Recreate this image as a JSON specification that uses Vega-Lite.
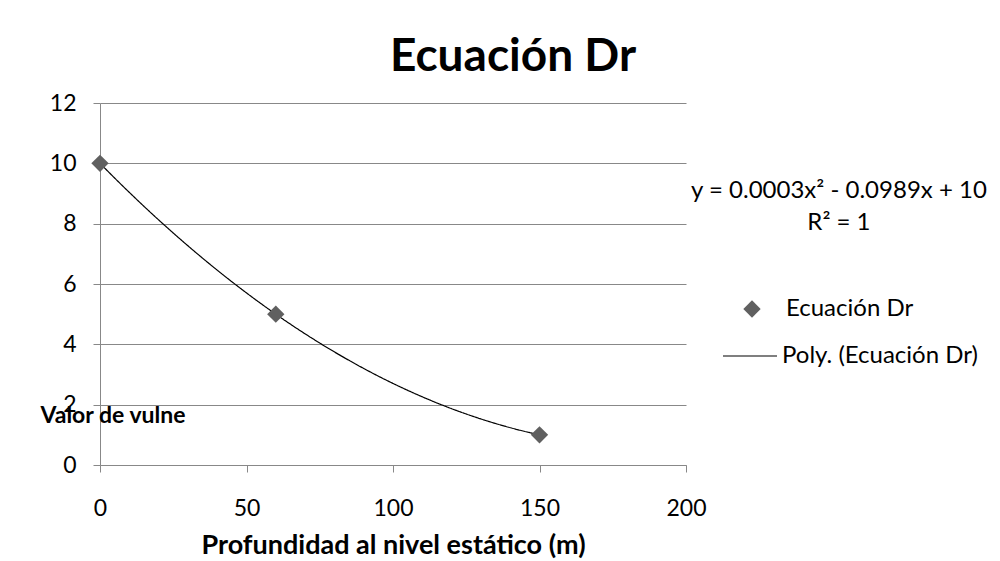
{
  "$schema": "https://vega.github.io/schema/vega-lite/v6.json",
  "autosize": {"type": "none"},
  "width": 586,
  "height": 362,
  "padding": {"left": 100, "top": 103, "right": 314, "bottom": 96},
  "background": "white",
  "title": {
    "text": "Ecuación Dr",
    "font": "Lato",
    "fontSize": 46,
    "fontWeight": "bold",
    "color": "black",
    "anchor": "middle",
    "frame": "group",
    "baseline": "alphabetic",
    "offset": 0,
    "dx": 120,
    "dy": 25
  },
  "config": {
    "view": {"stroke": null},
    "font": "Lato",
    "axis": {
      "domainColor": "#888888",
      "tickColor": "#888888",
      "gridColor": "#888888",
      "labelFont": "Lato",
      "labelFontSize": 23,
      "labelColor": "black",
      "labelFlush": false,
      "labelOverlap": false,
      "titleFont": "Lato",
      "titleColor": "black",
      "titleFontWeight": "bold",
      "tickSize": 7
    }
  },
  "data": {
    "values": [
      {"x": 0, "y": 10},
      {"x": 60, "y": 5},
      {"x": 150, "y": 1}
    ]
  },
  "layer": [
    {
      "transform": [
        {"regression": "y", "on": "x", "method": "poly", "order": 2, "extent": [0, 150]}
      ],
      "mark": {"type": "line", "color": "black", "strokeWidth": 1.2, "interpolate": "monotone"},
      "encoding": {
        "x": {
          "field": "x", "type": "quantitative",
          "scale": {"domain": [0, 200], "nice": false},
          "axis": {
            "values": [0, 50, 100, 150, 200],
            "grid": false,
            "labelBaseline": "middle",
            "labelPadding": 36,
            "title": "Profundidad al nivel estático (m)",
            "titleFontSize": 27,
            "titleY": 80,
            "titleBaseline": "middle"
          }
        },
        "y": {
          "field": "y", "type": "quantitative",
          "scale": {"domain": [0, 12], "nice": false},
          "axis": {
            "values": [0, 2, 4, 6, 8, 10, 12],
            "grid": true,
            "labelPadding": 17,
            "title": "Valor de vulne",
            "titleFontSize": 23,
            "titleAngle": 0,
            "titleAlign": "left",
            "titleBaseline": "middle",
            "titleX": -60,
            "titleY": 312
          }
        },
        "strokeDash": {
          "datum": "Poly. (Ecuación Dr)",
          "scale": {"range": [[1, 0]]},
          "legend": {
            "orient": "none",
            "legendX": 622,
            "legendY": 225,
            "title": null,
            "padding": 0,
            "symbolType": "stroke",
            "symbolSize": 2916,
            "symbolStrokeColor": "black",
            "symbolStrokeWidth": 1.2,
            "labelFont": "Lato",
            "labelFontSize": 24,
            "labelColor": "black",
            "labelOffset": 4,
            "labelLimit": 400
          }
        }
      }
    },
    {
      "mark": {"type": "point", "filled": true, "color": "#606060", "size": 300, "opacity": 1},
      "encoding": {
        "x": {"field": "x", "type": "quantitative", "scale": {"domain": [0, 200], "nice": false}},
        "y": {"field": "y", "type": "quantitative", "scale": {"domain": [0, 12], "nice": false}},
        "shape": {
          "datum": "Ecuación Dr",
          "scale": {"range": ["diamond"]},
          "legend": {
            "orient": "none",
            "legendX": 640,
            "legendY": 194,
            "title": null,
            "padding": 0,
            "symbolSize": 300,
            "symbolFillColor": "#606060",
            "symbolStrokeWidth": 0,
            "symbolOpacity": 1,
            "labelFont": "Lato",
            "labelFontSize": 24,
            "labelColor": "black",
            "labelOffset": 22,
            "labelLimit": 400
          }
        }
      }
    },
    {
      "data": {"values": [{"label": "y = 0.0003x² - 0.0989x + 10\nR² = 1"}]},
      "mark": {"type": "text", "font": "Lato", "fontSize": 24, "color": "black", "align": "center", "baseline": "middle", "lineBreak": "\n", "lineHeight": 32},
      "encoding": {
        "x": {"datum": 252.2, "type": "quantitative", "scale": {"domain": [0, 200], "nice": false}},
        "y": {"datum": 9.08, "type": "quantitative", "scale": {"domain": [0, 12], "nice": false}},
        "text": {"field": "label"}
      }
    }
  ]
}
